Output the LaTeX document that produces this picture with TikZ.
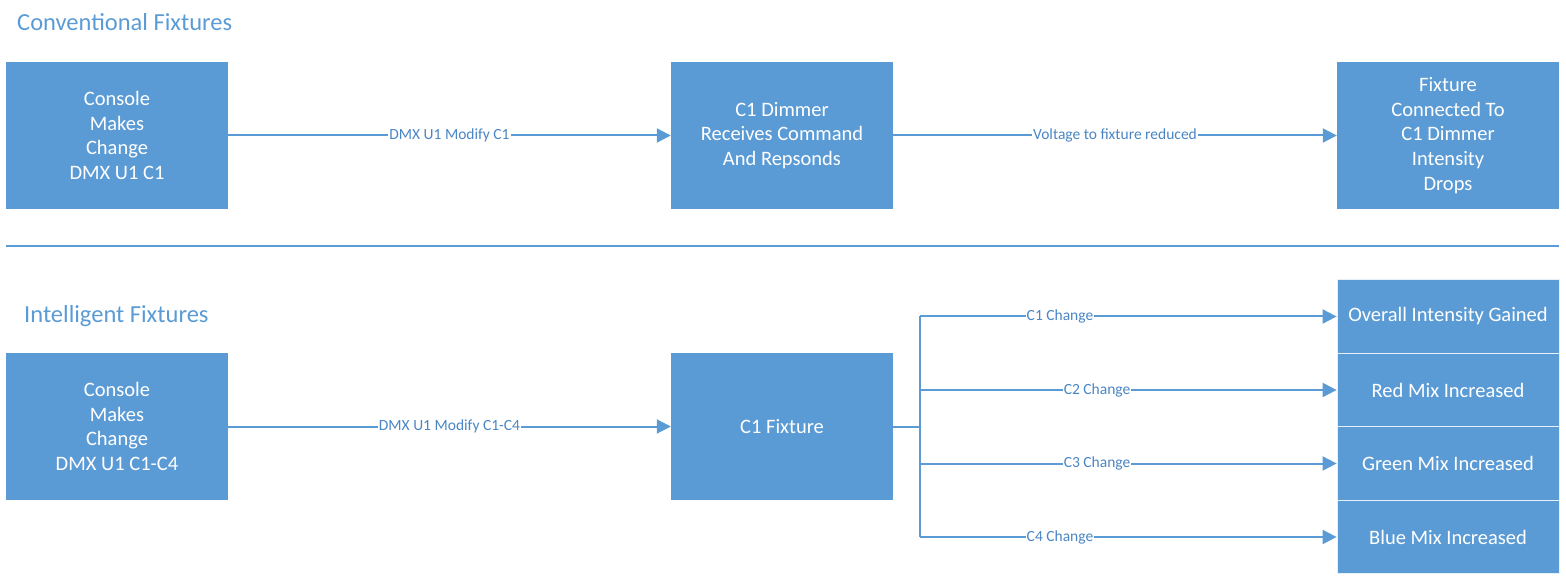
\documentclass[tikz,border=0pt]{standalone}
\usepackage{fontspec}
\setmainfont{Carlito}
\usetikzlibrary{arrows.meta}
\definecolor{boxblue}{HTML}{5B9BD5}
\definecolor{lineblue}{HTML}{5B9BD5}
\definecolor{labblue}{HTML}{4A86C5}
\begin{document}
\begin{tikzpicture}[x=1pt,y=-1pt,
  fbox/.style={fill=boxblue, draw=none, minimum width=222pt, minimum height=147pt, inner sep=0pt,
    text=white, align=center, font=\fontsize{20.5}{24.7}\selectfont},
  sbox/.style={fill=boxblue, draw=white!85!boxblue, line width=0.8pt, minimum width=222pt, minimum height=73.5pt, inner sep=0pt,
    text=white, align=center, font=\fontsize{20.5}{24.7}\selectfont},
  conn/.style={draw=lineblue, line width=2pt, -{Triangle[length=14pt,width=14pt]}},
  lnk/.style={draw=lineblue, line width=2pt},
  lab/.style={fill=white, text=labblue, inner sep=1pt, font=\fontsize{15.5}{18}\selectfont},
  ttl/.style={text=boxblue, anchor=west, inner sep=0pt, font=\fontsize{24.5}{28}\selectfont}]
\useasboundingbox (0,0) rectangle (1566,585);
% titles
\node[ttl] (t1) at (17,22) {Conventional Fixtures};
\node[ttl] (t2) at (24,316) {Intelligent Fixtures};
% separator
\coordinate (s1) at (6,246);
\coordinate (s2) at (1559,246);
\draw[lnk] (s1) -- (s2);
% top row
\node[fbox] (a1) at (117,135.5) {Console\\Makes\\Change\\DMX U1 C1};
\node[fbox] (a2) at (782,135.5) {C1 Dimmer\\Receives Command\\And Repsonds};
\node[fbox] (a3) at (1448,135.5) {Fixture\\Connected To\\C1 Dimmer\\Intensity\\Drops};
\draw[conn] (a1) -- node[lab] {DMX U1 Modify C1} (a2);
\draw[conn] (a2) -- node[lab] {Voltage to fixture reduced} (a3);
% bottom row
\node[fbox] (b1) at (117,426.5) {Console\\Makes\\Change\\DMX U1 C1-C4};
\node[fbox] (b2) at (782,426.5) {C1 Fixture};
\node[sbox] (c1) at (1448,316.5) {Overall Intensity Gained};
\node[sbox] (c2) at (1448,390) {Red Mix Increased};
\node[sbox] (c3) at (1448,463.5) {Green Mix Increased};
\node[sbox] (c4) at (1448,537) {Blue Mix Increased};
\draw[conn] (b1) -- node[lab] {DMX U1 Modify C1-C4} (b2);
\coordinate (j) at (920,426.5);
\coordinate (j1) at (920,316.5);
\coordinate (j2) at (920,390);
\coordinate (j3) at (920,463.5);
\coordinate (j4) at (920,537);
\draw[lnk] (b2.east) -- (j);
\draw[lnk] (j1) -- (j4);
\draw[conn] (j1) -- node[lab, pos=0.336] {C1 Change} (c1.west);
\draw[conn] (j2) -- node[lab, pos=0.425] {C2 Change} (c2.west);
\draw[conn] (j3) -- node[lab, pos=0.425] {C3 Change} (c3.west);
\draw[conn] (j4) -- node[lab, pos=0.336] {C4 Change} (c4.west);
\end{tikzpicture}
\end{document}
